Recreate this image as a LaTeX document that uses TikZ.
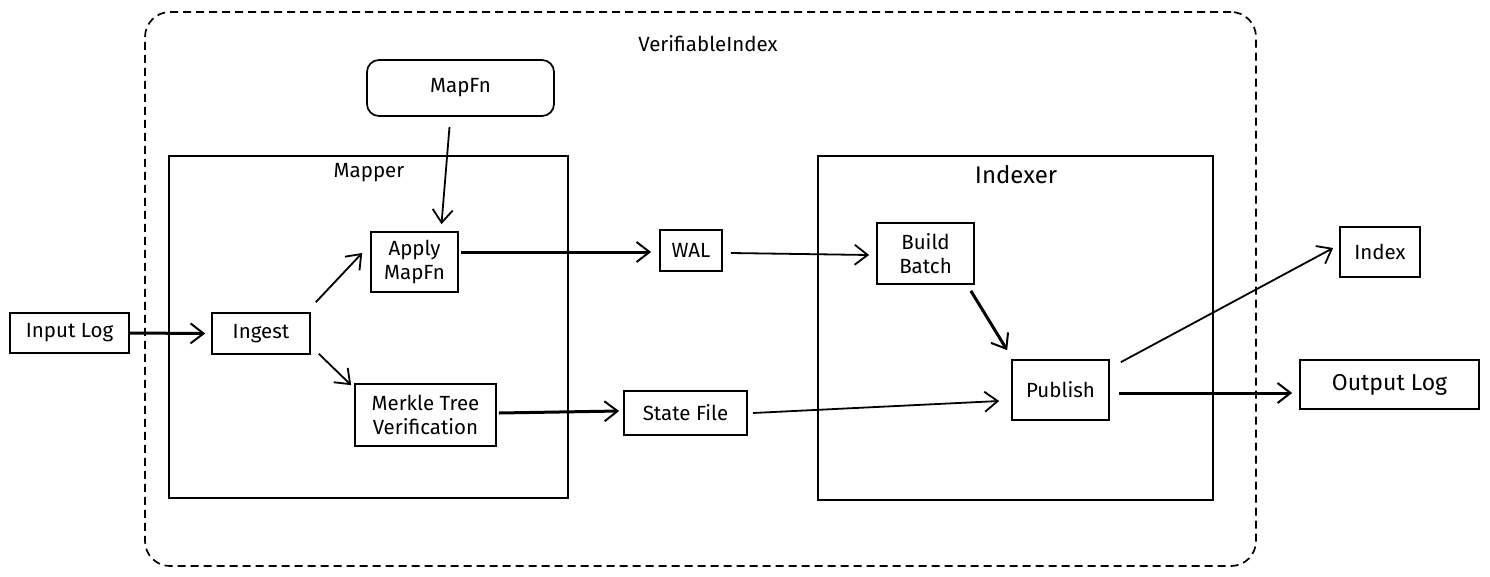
\documentclass[tikz,border=0pt]{standalone}
\usepackage{fontspec}
\setmainfont{Fira Sans}
\usetikzlibrary{arrows.meta}
\begin{document}
\begin{tikzpicture}[x=1pt,y=-1pt,
  box/.style={draw, line width=1.7pt, inner sep=0pt, align=center, font=\fontsize{20.5}{24}\selectfont},
  frame/.style={draw, line width=1.7pt, inner sep=0pt},
  lbl/.style={inner sep=0pt, font=\fontsize{20.5}{24}\selectfont},
  arr/.style={-{Straight Barb[length=13pt,width=20pt,line width=1.8pt]}, line width=1.8pt},
  tarr/.style={-{Straight Barb[length=13pt,width=20pt,line width=2pt]}, line width=3pt}]
\useasboundingbox (0,0) rectangle (1490,576);
\fill[white] (0,0) rectangle (1490,576);
% containers
\node[frame, dash pattern=on 8pt off 5pt, rounded corners=25pt, minimum width=1111, minimum height=554] (vi) at (700.5,289) {};
\node[lbl] (vilbl) at (708,44) {VerifiableIndex};
\node[frame, minimum width=399, minimum height=342] (mapper) at (368.5,327) {};
\node[lbl] (mapperlbl) at (369,173) {Mapper};
\node[frame, minimum width=395, minimum height=344] (indexer) at (1015.5,328) {};
\node[lbl, font=\fontsize{24}{28}\selectfont] (indexerlbl) at (1016,175) {Indexer};
% nodes
\node[box, rounded corners=12pt, minimum width=187, minimum height=56] (mapfn) at (460.5,88) {MapFn};
\node[box, minimum width=119, minimum height=40] (input) at (69.5,333) {Input Log};
\node[box, minimum width=98, minimum height=41] (ingest) at (261,333.5) {Ingest};
\node[box, minimum width=87, minimum height=60] (apply) at (414.5,262) {Apply\\MapFn};
\node[box, minimum width=141, minimum height=62] (merkle) at (425.5,415) {Merkle Tree\\Verification};
\node[box, minimum width=62, minimum height=41] (wal) at (691,250.5) {WAL};
\node[box, minimum width=123, minimum height=44] (state) at (685.5,413) {State File};
\node[box, minimum width=97, minimum height=61] (build) at (925.5,253.5) {Build\\Batch};
\node[box, minimum width=97, minimum height=60] (publish) at (1060.5,390) {Publish};
\node[box, minimum width=80, minimum height=50] (index) at (1380,252) {Index};
\node[box, minimum width=179, minimum height=49, font=\fontsize{23}{27}\selectfont] (output) at (1389.5,384.5) {Output Log};
% connectors
\draw[tarr] (input.east) -- ([shift={(-6,0)}]ingest.west);
\draw[arr] ([shift={(5,-10)}]ingest.north east) -- ([shift={(-8,-9)}]apply.west);
\draw[arr] ([shift={(8,-1)}]ingest.south east) -- ([shift={(-3,2)}]merkle.north west);
\draw[arr] ([shift={(-11,10)}]mapfn.south) -- ([shift={(27,-7)}]apply.north);
\draw[tarr] ([shift={(2,-10)}]apply.east) -- ([shift={(-8,1.5)}]wal.west);
\draw[arr] ([shift={(8,2.5)}]wal.east) -- ([shift={(-7,1.5)}]build.west);
\draw[tarr] ([shift={(2,-2)}]merkle.east) -- ([shift={(-4,-2)}]state.west);
\draw[arr] ([shift={(5,0)}]state.east) -- ([shift={(-12,11)}]publish.west);
\draw[tarr] ([shift={(-4,6)}]build.south east) -- ([shift={(-4,-9)}]publish.north west);
\draw[arr] ([shift={(11,3)}]publish.north east) -- ([shift={(-6,-4)}]index.west);
\draw[tarr] ([shift={(9,3)}]publish.east) -- ([shift={(-7,8.5)}]output.west);
\end{tikzpicture}
\end{document}
